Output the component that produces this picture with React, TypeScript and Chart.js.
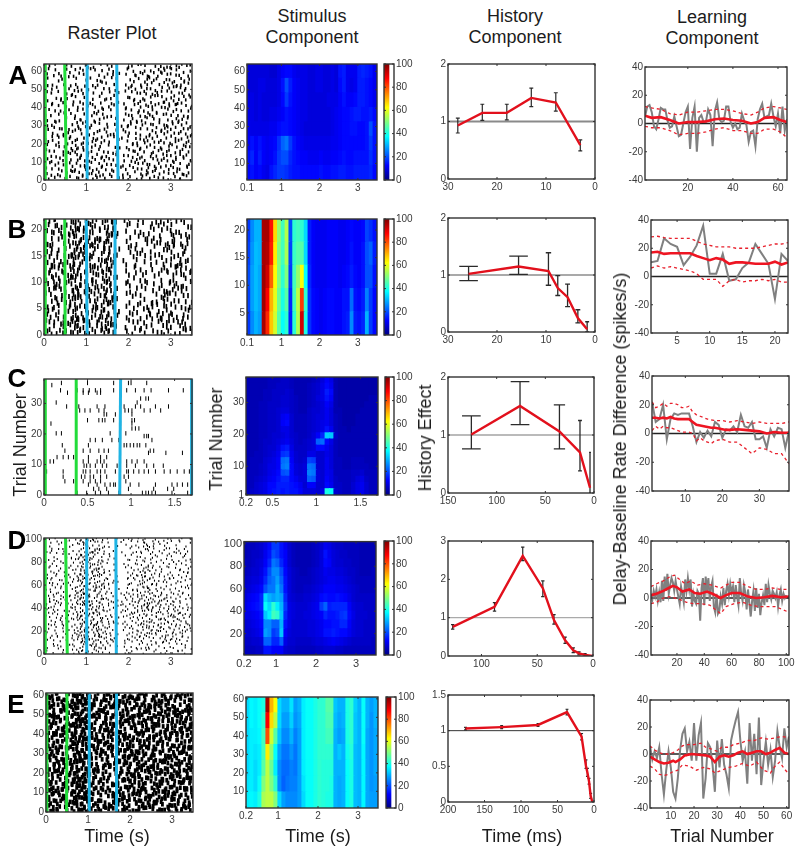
import React, { useEffect, useRef } from "react";
import { Chart, registerables } from "chart.js";
Chart.register(...registerables);

// ---------- raster data: rows top to bottom, "#" = spike in that time bin ----------
const rasterA = [
"#.#..#..#.#...#.##..#.#..#.#..#...#.#.##.#..#.#.##.#.##.#.##",
".#.#.....##.#..#..#.#..#..#.#.....#.#..#.##.#.##.#..#.#.#.#.",
"#..#.#.#..#.#.#.#....#.#.#..#.#..#..##.#.#.#..#.#.##.#.#..##",
".#...#.#.#...#..#.#.#..#...#.#....#.#.#..#.#.##..#.#.#.##.#.",
"..#.#..#..#.#..#...#.#.#.#...#...#.#..#.##.#..#.#.##.#.#.#.#",
"#..#.#...#.#.#.#.#...#..#.#.#....#.#.#.#.#.#.#.#..#.##.#.##.",
".#.#..#.#..#..#.#.#.#.#...#..#..#..#.#.##.#.#.#.##.#..#.#.#.",
"#...#.#..#.#.#..#...#.#.#.#.#....#.#.#..#.#.##.#.#.#.##.#..#",
".#.#..#.#...#.#.##.#..#.#...#.#..#.#.##.#.#..#.##.#.#.#.#.#.",
"#.#..#...#.#.#...#.#.#..#.#.#....#..#.#.#.##.#.#.#.#.##.#.##",
"..#.#.#.#.#..#.#.#..#.#.#..#.....#.#.##.#.#.#.#..#.#.#.#.#.#",
"#.#...#..#.#.#.#..#.#..#.#.#.#..#.#.#..#.#.##.#.##.#.#..#.#.",
".#..#.#.#..#.#.#.#..#.#.#...#...#.#.#.#.#.#.#..#.#.#.##.#.#.",
"#.#.#...#.#.##.#.#.#.#.#..#.#.#..#.#.#.#.#.##.#.#.#.#.#.#.#.",
".#.#.#.#..#.#.##.#.#.#.#.#...#..#.#..#.#.#.#.#.##.#.#.#.#.##",
"#..#.#..#.#.#.#.##.#.#..#.#.#....#.#.#.#..#.#.#.#.#.#.##.#.#",
".#.#..#.#.##.#.#.#.#.#.#.#..#.#.#.#.#.#.#.#.#.#..#.#.#.#.#.#",
"#.#.#.#..#.#.###.#.#.#.#.#.#.....#.#.#.##.#.#.##.#.#.#.#.##.",
".#..#.#.#.#.#.#.#.##.#.#..#.#.#..#.#.#.#.#.#.#.#.#.#.#.#.#.#",
"#.#.#..#.#.##.#.#.#.#.#.#.#..#....#.##.#.#.#.#.#.##.#.#.#.#.",
".#.#.#.#..#.#.##.#.#.#.#.#.#.#..#.#.#.#.#.##.#.#.#.#.#.##.#.",
"#.#..#.#.#.#.##.#.#.#.#.#.#.#.#..#.#.#.#.#.#.#.##.#.#.#.#.#.",
".#.#.#..#.##.#.#.#.#.#.##.#..#..#.#.#.##.#.#.#.#.#.#.#.#.##.",
"#..#.#.#.#.#.#.###.#.#.#.#.#.#.#.#.#.#.#.#.#.##.#.#.#.##.#.#",
".#.#..#.#.##.#.#.##.#.#.#.#.#...#.#.#.#.#.#.#.#.#.#.##.#.#.#",
"#.#.#.#.#.#.##.#.#.#.#.#.#.#.#.#.#.#.#.##.#.#.#.#.#.#.#.#.#.",
];
const rasterB = [
"#.#.##.#..#####.####.#.###.###...#.#..#.#..#.##.#.#..#.#.#..",
".#.##..#.#.####.#####.#.##.##.....#...#...#.#.#...#.#....#.#",
"#.##.#.#..#####.##.##.#.####.#...#..#.#.#..#....#..###.#.#..",
"#..#.#.#..#.####.#.##.##.###.#....#...#.#.#..#.##...##.#.##.",
".##.#..#.#.#####.##.#.#.####......#.#....#.#.#.#.####..#..#.",
"#.##..#.#.#####.#.###.#.###.##...#.#.#..#...#...###.#...#.#.",
".#.#.#.#..####.###.##.##.##.#.....#..#.#.#.#.#.#...#.#.#.#..",
"#.##.#....#####.#.##.#.####.#...#...#.#...#....#.#.#.#.#..#.",
".###.##.#.######.#.##.#.##.##.....#.#...#.#.#..#...#..###.#.",
"####.#.#..#####.#.###.#.####.#...#..#.#....#...##.#..####.#.",
"#.##.#.#.#.####.##.#.##.#.##......#.#..#.#...#.#.#.#.#.##.#.",
".#.##.##..#####.#.##.#.####.##...#...#.#.#.....#..#.#....#.#",
"#.#.###.#.#.####.###.#.#.###.....#.#....#.#.#...#.#.##.#.#..",
".#.##.###.#####.#.##.##.####.#....#..#...#..#.#.#.#.#.#.#.#.",
"#.#.#..#..######.##.#.###.###....#.#.#.#.....#.##.##..#.#.#.",
"#.#.##.#.#.####.#.#.##.#####.#....#....#.#.#.#.##.#.#.#..#.#",
".##.#.#...#####.##.###.#.###.#...#.#.#...#.##.#.##.#.#.#..#.",
"#.#.#.#.#.#.###.##.#.#.####.##....#..#.#.#.#..#.#.#.#...#.#.",
".##.##.#..#####.#.##.#.#####.#...#.#...#.#.##.####.#.#.##.#.",
"#.#.#.##.#.####.##.#.###.####.....#.#.#..#...#.#.###.#.#.#..",
".##.#..#..#####.#.##.#.#####.#...#...#.#.#.#...#.#.#...###.#",
"#.#.##.#.#.####.###.#.#.###.##....#.#..#.#.#.#.#.#.#.#.#.#.#",
];
// raster C, read spike by spike: trial number, then spike times in seconds
const rasterC = [
[36.7, 0.2, 0.5, 0.8, 0.97, 1.0, 1.18], [36, 0.09],
[34.3, 0.19, 0.38, 0.45, 0.52, 0.59, 0.65, 0.8, 0.95, 1.05, 1.15, 1.23, 1.43, 1.6],
[33.5, 0.27, 0.45, 0.51, 0.61, 0.65], [31.6, 1.11, 1.17, 1.2], [30.3, 0.14, 1.07],
[29, 0.26, 0.4, 0.61, 0.7, 0.92, 1.05, 1.11, 1.28, 1.43],
[27.7, 0.41, 0.47, 0.53, 0.63, 0.69, 0.93, 0.97, 1.01, 1.15, 1.22, 1.34],
[26.4, 0.69, 0.72, 0.82, 1.01], [24.5, 0.5, 0.63, 0.67, 0.7, 0.8, 1.01, 1.04],
[23.4, 0.08, 0.88, 1.01], [21.8, 1.01, 1.05, 1.09], [20.2, 0.14, 0.2, 0.76, 0.94],
[19.3, 1.15, 1.18, 1.2], [18, 0.53, 0.59, 0.67, 0.78, 0.86, 1.24],
[16.3, 0.21, 0.51, 0.92, 0.95, 0.99, 1.03, 1.07, 1.1, 1.17],
[14.5, 0.24, 0.45, 0.53, 0.63, 0.69, 0.74, 1.22, 1.26], [13.8, 1.2, 1.4, 1.59],
[12.4, 0.15, 0.22, 0.28, 0.34, 0.51, 0.65, 0.72],
[11, 0.07, 0.11, 0.45, 0.51, 0.61, 0.65, 0.69, 0.95, 1.01, 1.07, 1.15],
[9.6, 0.46, 0.49, 0.53, 0.59, 0.67, 0.72, 0.84, 0.95, 1.05, 1.18, 1.26, 1.37],
[7.7, 0.03, 0.22, 0.45, 0.48, 0.53, 0.61, 0.65, 0.7, 0.82, 0.95, 0.97, 1.03, 1.09, 1.15, 1.2, 1.28, 1.38, 1.45, 1.53, 1.61, 1.67],
[6, 0.22, 0.43, 0.47, 0.53, 0.57, 0.65, 0.72, 0.92, 0.97],
[4.5, 0.24, 0.34, 0.45, 0.53, 0.59, 0.65, 0.94],
[3.4, 0.51, 0.61, 0.7, 0.76, 0.8, 0.82, 0.99, 1.09, 1.28, 1.47, 1.53, 1.59, 1.65],
[2, 0.57, 0.63, 0.72, 0.97, 1.26, 1.42, 1.49],
[0.7, 0.38, 0.49, 0.59, 0.65, 0.74, 0.86, 1.13, 1.17, 1.2, 1.24, 1.28, 1.47, 1.65],
];
const rasterD = [
"#.#..#...#..#.##.#.###.#.#....#.#...#.#.##..#...#.#...#.#..#",
"..#.#..#.#...#.##.#.##.#.#......#..#..#.##.##.#...#.#..#..#.",
".#...#.....#..#.###.##.#.....#...#.#.#..###.#..#.#...#...#.#",
"#..#.#..#.#...##.#.##.#.#.#.......#...#.#.##.#...#.#..#.#...",
".#.#...#...#.#.##.###.#.#...#...#...#.#...#.#.#.#...#.#...#.",
"..#..#.#.#..#.##.####.#.#.#.......#.#..#...#.#.#..#..#.#..#.",
"#...#...#.#..#.###.##.#...#.....#....#.#.#..#.#..#.#...#.#..",
".#.#.#.....#.##.####.#.#.#..#....#.#..#.#.#...#.#...#.#..#.#",
"...#..#.#...#.###.##.###.#.......#..#...#.#.#..#..#.#...#...",
".#..#...#.#..#.##.###.#.#...#.....#..#.#.##.#.#...#...#.#.#.",
"#.#...#...#.#.##.##.####.#.......#.#.#..###.#...#.#.#.#..#..",
"..#.#.#.#...#.###.###.#.#.#.#....#...#.###.#.#.#..#...#.#.#.",
".#...#...#.#.####.##.####.#.......#.#.#.##.#.#.#.#.#..#...#.",
"#.#.#..#.#..#.####.###.#.#...#...#..#.#####.#.#..#.#.#..#.#.",
"..#..#.#...#.#####.###.#.#.#......#.#.#.###.#.#.#..#...#.#.#",
".#.#.#..#.#.#.#####.####.#.#..#...#.#..###.#.#.#.#...#.#...#",
"#..#...#.#.#.#####.##.###.#.......#..#.#.#.#.#...#.#...#.#..",
".#.#.#.#...#.######.####.#.#.#...#.#.#.#.###.#.#.#.#.#..#.#.",
"#.#..#.#.#..#.#####.##.#.#.#.....#.#.#.##.#.#.#.#.#...#.#...",
".#.#.##.#.#.#.######.###.#..#.#.#.#.#.#.###.#.##.#.#.#..#.#.",
"#.#.#..#.#.#.######.##.#.#.#.....#.##.#.###.#.#.##.#.#.#...#",
".#.##.#.#..#.#######.###.#.#..#.#.#.#.##.####.###.#.#..#.#.#",
"##.#.#.#.#.#.######.####.#.#.#..#.#.#.#.#####.##.#.#.#.#.#..",
"#.#.#.#..#.#.#######.##.#.#..#.#.#.#.#.######.###.#.##.#..#.",
".##.#.#.#.#.#.#####.###.#.#.#...#.#.##.#.####.#.#.#.#.#.#.#.",
"#.#.#..#.#..#.####.####.#.#...#.#.#.#.#.##.#.###.##.#.#.#...",
".#.#.#.#.#.#.####.#####.#.#.#...#.#.#.#.###.#.#.#.####.#.#.#",
"#.#.#.#..#.#.###.####.##.#.#..#.#.#.#.#.#.#.#.#.#.#.###.#.#.",
"..#.#.#.#.#.#.####.#####.#.#.....#.#.#.#.###.##.#.#.#.#.#.#.",
".#.#..#..#..#.###.#####.#.#.#.#.#.#.#.###.#.#.###.#.#.#.##.#",
"#..#.#.#...#.#####.####.##.#.....#.#.#.#.###.####.#.#.#.#.#.",
"..#.#...#.#.#.#####.####.#.#.#..#.#.#.#.#.###.#.#.#.#.##.#.#",
".#...#.#...#.######.#####.#.......#.#.#.#.##.###.#.##.#.#.#.",
"#.#.#...#.#.#.#####.####.#.#.#...#.#.#.###.#.#.#.##.#.#.#...",
"..#..#.#...#.######.#####.#.#.....#.#.#.#.#.#.#.#.#.#.#.#.#.",
".#.#...#.#..#.####.####.#.#.#...#.#.#.#.#.#.#..#.#.#.#.#.#..",
"#...#.#...#.#.###.###.##.#.......#...#.#.#.#.#..#.#..#.#.#..",
"..#.#..#.#..#.##.##.##.#.#.#.#..#.#.#...#.#...#.#..#.#..#...",
".#...#.#...#.#.##.#.##.#.#.......#...#.#.#.#.#...#...#.#...#",
"#..#...#.#.#.#.#.##.#.#.#.#.#...#.#.#...#...#.#.#..#.#...#..",
];
const rasterE = [
"##.###.##.#########.##.####.#.###.##.#####.##.###..#####.###",
"#.#####.#.########.##.###.##.###.######.#.####.#.###.#.#####",
"###.#.####.#######.###.#.#####.##.#.######.#####.##.#..#.###",
"##.#.####.#########.#.###.####.#####.##.####.#.####.###.####",
"#####.#.#.#########.##.###.#.##.###.#####.#.###.#######.#.##",
"#.#######.#######.###.#.####.##.#####.#.#####.##.#.#.###.###",
".####.###.########.##.####.#.#####.###.###.####.#####.#.####",
"###.#.###.#########.###.#.###.#.#.####.#.#####.###.#.####.##",
"#.###.###.#######.##.#.####.####.#.#######.#.###.#####.##.##",
"####.##.#.#########.##.###.#.#######.#.#.######.##.#.#####.#",
"##.#####..########.#.###.###.##.#.######.##.#.#####.###.####",
"###.##.##.#########.##.#.###.#.####.#.#####.####.#.###.##.##",
"#.####.##.#######.###.##.####.######.##.#.#####.####.#.#####",
"###.#.###.#########..#####.#.###.#.######.###.#.#.######.#.#",
"##.###.##.########.##.#.#..####.######.#.####.#####.#.###.##",
"#.####.##.#########.#.####.#..####.#.#####.#.###.#.#####.###",
"####.#.##.#######.###..#.###.#.#.######.######.###.##.#.####",
"##.#####.#########.#.###.##.###.####.#.#.##.####.###.#####.#",
"#.#.##.##.########.##.#.##..##.#.#########.#.#.######.#.####",
"###.#.###.#########.####.#.#####.##.#.#.####.#####.#.####.##",
"####.#.##.#######.###.#..###.#.######.###.#.###.#.#####.##.#",
"#.#####.#.#########..##.##.#.##.#.#.######.###.####.#.#.####",
"###.#.###.########.#.#..#.###.####.##.#.#####.#.#.########.#",
"##.####.#.#########.###.#..###.#.######.##.#######.##.#.#.##",
"####.####.#######.##.#.####.#.###.#.####.#####.#.#####.#####",
"#.####.##.#########.###.#.###.#####.###.##.#.######.##.###.#",
];
// where inside its bin a spike falls (bins are coarser than the picture)
const rowPhase = [0.1, 0.55, 0.3, 0.85, 0.2, 0.7, 0.45, 0.95, 0.05, 0.6, 0.35, 0.8, 0.15, 0.5, 0.9, 0.25, 0.65, 0.4, 0.75, 0];
const binDrift = [-0.4, 0.3, 0.1, -0.2, 0.45, -0.35, 0.2, -0.1, 0.35, -0.45, 0.05, 0.25, -0.3, 0.4, -0.15];
const rowDrift = [0.3, -0.2, 0.45, -0.4, 0.1, 0.35, -0.3, 0.2, -0.45, 0.05, -0.1, 0.4, -0.25, 0.15, -0.35, 0.25, 0];

const rasterTimes = [
  { x: [0.03, 0.03], x2: [0.53, 0.49], x3: [1.02, 1.02], x4: [1.75, 1.72] },
  { x: [0.03, 0.03], x2: [0.5, 0.49], x3: [1.02, 1.0], x4: [1.68, 1.68] },
  { x: [0.015, 0.015], x2: [0.37, 0.37], x3: [0.87, 0.88], x4: [1.695, 1.695] },
  { x: [0.03, 0.03], x2: [0.55, 0.51], x3: [1.01, 1.01], x4: [1.71, 1.7] },
  { x: [0.02, 0.02], x2: [0.49, 0.5], x3: [1.03, 1.03], x4: [1.68, 1.68] },
];

// ---------- stimulus component: rate per cell, rows bottom to top ----------
const heatA = [
[13,14,12,13,11,10,14,16,18,18,17,15,14,14,13,13,13,13,13,14,13,13,14,14,15,15,14,14,15,15,15,15,16,13],
[14,16,12,15,12,11,12,14,18,20,20,16,14,13,12,12,11,11,11,12,11,11,12,12,13,14,13,13,14,14,14,14,17,14],
[12,14,12,14,12,11,12,13,17,22,24,18,14,12,11,10,10,10,10,10,10,10,11,11,12,13,13,13,13,13,13,14,18,14],
[11,10,10,10,10,10,11,11,13,14,14,13,12,11,10,9,9,9,9,9,9,9,10,11,12,13,13,14,14,13,13,14,20,14],
[10,10,9,10,9,9,10,10,11,12,14,13,12,11,10,10,9,9,9,9,9,9,10,11,12,13,13,14,15,15,14,14,15,13],
[10,10,9,10,9,9,9,9,10,13,18,14,12,11,10,10,9,9,9,9,9,10,10,10,12,14,12,12,13,15,15,14,13,11],
[9,9,9,10,10,9,9,9,10,14,20,15,12,11,10,10,9,9,10,10,9,9,10,9,13,15,11,10,11,15,15,14,13,11],
[9,9,9,9,9,9,8,8,10,12,13,13,11,10,10,10,9,9,10,10,9,9,10,9,14,15,11,11,11,15,16,15,14,11],
];
const heatB = [
[18,26,30,28,96,84,68,58,46,38,42,15,42,55,92,40,17,13,12,11,12,13,13,12,12,14,15,26,15,14,16,30,18,13],
[19,28,31,29,97,88,70,60,48,40,46,16,44,56,82,42,17,13,12,11,12,13,13,12,12,14,14,23,14,13,15,25,18,13],
[20,28,31,29,97,92,78,62,50,42,50,18,44,52,62,38,16,12,11,11,11,12,12,12,11,12,13,15,13,12,14,20,20,14],
[19,27,31,30,96,95,85,64,50,44,54,19,43,46,46,34,15,12,11,11,11,12,12,12,11,11,12,14,12,12,14,20,22,15],
[18,26,30,30,96,96,86,66,52,44,55,20,42,44,42,34,15,12,11,11,11,12,12,12,11,11,12,13,12,12,13,19,17,14],
];
const heatC = [
[6,7,8,9,10,13,14,15,14,15,14,14,12,9,9,9,8,10,40,38,8,7,6,6,8,10,11,8,6,6],
[6,6,8,9,10,13,13,15,15,15,14,13,11,8,12,12,8,8,13,11,7,7,6,6,8,10,11,8,6,6],
[6,6,7,8,9,11,12,14,16,16,13,11,9,9,22,21,9,8,12,10,7,6,6,6,7,9,10,7,6,6],
[6,6,6,7,8,10,11,13,20,21,13,9,8,9,25,24,9,8,11,10,6,6,6,6,7,7,8,6,6,6],
[5,6,6,7,8,10,10,12,24,25,13,9,8,9,24,23,8,8,11,9,6,6,5,5,6,6,6,6,5,5],
[5,6,6,6,8,9,10,12,23,24,12,8,7,8,19,18,8,8,11,9,6,6,5,5,6,6,6,5,5,5],
[5,5,6,6,7,8,9,11,17,18,11,8,7,7,10,10,8,8,10,9,6,5,5,5,5,5,5,5,5,5],
[5,5,5,6,7,8,8,10,14,15,10,7,7,7,8,9,13,13,11,9,6,5,5,5,5,5,5,5,5,5],
[5,5,5,6,7,7,8,9,10,11,9,7,6,7,8,9,22,23,13,10,6,5,5,5,5,5,5,5,5,5],
[5,5,5,6,6,7,8,8,9,10,8,7,6,6,7,9,12,16,33,32,7,5,5,5,5,5,5,5,5,5],
[5,5,5,6,6,7,7,8,10,10,8,6,6,6,7,8,9,10,14,11,6,5,5,4,5,5,5,5,5,5],
[5,5,5,6,6,7,7,8,12,13,8,6,6,6,7,8,9,10,11,9,6,5,4,4,4,5,5,5,5,5],
[5,5,5,6,6,7,7,8,11,12,8,6,6,6,7,8,9,9,11,9,6,5,4,4,4,5,5,5,5,5],
[5,5,5,6,6,7,7,8,9,9,7,6,5,5,7,8,8,9,11,9,5,5,4,4,4,4,5,5,5,5],
[5,5,5,6,6,7,7,7,8,8,7,6,5,5,6,7,8,9,12,10,5,4,4,4,4,4,4,5,5,5],
[5,5,5,5,6,6,7,7,8,8,7,6,5,5,6,7,9,10,14,12,5,4,4,4,4,4,4,4,5,5],
[5,5,5,5,6,6,7,7,7,8,7,5,5,5,6,7,8,10,15,13,5,4,4,4,4,4,4,4,4,4],
[5,5,5,5,5,6,6,7,7,7,6,5,5,5,6,7,8,10,13,11,5,4,4,4,4,4,4,4,4,4],
[5,5,5,5,5,6,6,6,7,7,6,5,5,5,5,6,7,9,12,10,5,4,4,4,4,4,4,4,4,4],
];
const heatD = [
[6,6,6,7,7,14,14,12,12,12,8,7,7,6,6,6,6,6,7,7,8,8,8,7,7,6,6,6,6,6,6,6,6],
[7,7,8,8,9,22,22,16,16,22,10,8,8,7,7,7,7,8,9,9,10,11,12,11,10,9,8,7,7,7,7,7,6],
[8,8,9,10,12,28,26,18,20,32,12,9,8,8,8,8,9,9,10,11,14,14,15,14,13,13,11,9,8,8,7,7,7],
[8,9,10,11,13,26,26,22,22,30,14,10,8,8,8,8,9,9,10,11,13,13,14,14,16,16,12,9,8,8,7,7,7],
[10,10,11,12,14,32,36,44,42,32,16,10,9,8,8,9,9,10,11,12,16,14,14,15,17,18,13,10,8,8,8,7,7],
[10,12,13,14,16,38,34,42,36,30,18,10,9,8,8,8,9,10,11,18,22,15,16,16,16,16,12,9,8,8,7,7,7],
[9,11,12,13,16,34,30,28,30,28,16,9,8,7,7,8,8,9,10,13,14,13,13,14,13,12,10,8,7,7,7,7,7],
[8,9,10,11,13,20,24,24,30,24,14,9,7,6,6,7,7,8,9,10,12,12,12,11,11,10,9,8,7,6,6,6,6],
[7,8,9,9,11,16,22,24,28,22,14,9,7,6,6,6,6,7,8,9,10,11,11,10,10,9,8,7,6,6,6,6,6],
[6,7,8,8,10,14,20,26,26,20,13,9,7,6,5,5,6,7,8,9,11,10,10,9,9,8,7,7,6,5,5,5,6],
[6,6,7,8,9,12,16,24,22,16,12,8,6,5,5,5,5,6,7,9,13,12,9,8,8,7,7,6,6,5,5,5,5],
[5,6,7,7,8,11,14,20,18,14,12,8,6,5,5,5,5,6,7,9,14,11,9,8,7,7,6,6,6,5,5,5,5],
[5,6,6,7,8,10,13,18,18,14,11,8,6,5,5,5,5,6,7,8,11,10,8,7,7,6,6,6,6,5,5,5,5],
];
const heatE = [
[36,37,36,40,54,56,56,50,34,28,26,26,26,28,34,38,38,40,42,41,40,40,30,29,30,38,40,31,30,37,29,28,28],
[35,36,34,38,50,56,50,42,26,22,24,25,25,28,35,38,38,40,42,41,41,40,30,29,30,38,40,31,30,37,29,27,28],
[34,36,34,36,46,56,48,36,26,23,23,25,24,28,36,38,38,40,42,41,41,41,30,30,30,38,40,31,30,37,29,27,29],
[34,36,35,36,44,64,52,38,28,24,24,27,24,28,36,38,38,40,42,42,42,42,30,32,30,39,41,31,30,37,29,27,29],
[34,36,36,37,44,80,58,46,32,26,26,30,25,28,36,38,38,40,42,42,44,44,30,28,29,40,42,32,30,38,29,27,29],
[34,37,36,38,42,88,66,56,34,28,28,33,27,29,36,38,38,40,42,42,45,45,31,29,30,40,42,32,30,38,30,27,30],
[34,37,36,38,40,96,70,62,34,30,30,35,28,30,36,38,38,40,42,42,46,46,32,30,30,40,42,33,30,38,30,28,30],
];

// ---------- history component ----------
const histA = { x: [28, 23, 18, 13, 8, 3], y: [0.93, 1.15, 1.15, 1.41, 1.33, 0.59], lo: [0.8, 1.02, 1.03, 1.26, 1.18, 0.49], hi: [1.06, 1.3, 1.3, 1.58, 1.5, 0.68], cap: [0.4, 0.4, 0.4, 0.4, 0.4, 0.4] };
const histB = { x: [25.8, 15.6, 9.5, 7.6, 5.6, 3.5, 1.6], y: [1.02, 1.15, 1.07, 0.77, 0.61, 0.245, 0.05], lo: [0.9, 1.01, 0.82, 0.64, 0.445, 0.16, 0], hi: [1.15, 1.33, 1.39, 0.99, 0.84, 0.39, 0.18], cap: [1.9, 1.9, 0.55, 0.5, 0.5, 0.5, 0.4] };
const histC = { x: [126, 76, 35.5, 14.4, 4.1], y: [1.01, 1.5, 1.06, 0.7, 0.09], lo: [0.76, 1.18, 0.76, 0.38, 0], hi: [1.33, 1.92, 1.52, 1.25, 0.7], cap: [9.6, 9.6, 5.8, 2, 1] };
const histD = { x: [125.8, 88.3, 63, 45, 35, 25, 17.7, 12.6, 7.2, 0.3], y: [0.76, 1.28, 2.61, 1.77, 0.94, 0.41, 0.15, 0.07, 0.03, 0], lo: [0.7, 1.17, 2.49, 1.55, 0.83, 0.33, 0.09, 0.03, 0, 0], hi: [0.82, 1.39, 2.84, 1.96, 1.08, 0.49, 0.21, 0.11, 0.06, 0], cap: [1.5, 1.5, 1.5, 1.5, 1.5, 1.5, 1.5, 1.5, 1.5, 0] };
const histE = { x: [176, 126.5, 76.7, 37, 17, 11, 9, 6.8, 4.6, 2.3], y: [1.03, 1.05, 1.08, 1.26, 0.915, 0.505, 0.41, 0.29, 0.085, 0], lo: [1.01, 1.03, 1.06, 1.22, 0.87, 0.47, 0.36, 0.25, 0.05, 0], hi: [1.045, 1.07, 1.1, 1.3, 0.96, 0.59, 0.47, 0.33, 0.12, 0], cap: [2, 2, 2, 2, 2, 2, 2, 2, 2, 0] };

// ---------- learning component ----------
const learnGrayA = [5,12,13,8,-2,-4,3,11,10,10,2,-3,-2,5,-2,-9,-8,0,8,12,-18,4,12,-20,4,6,1,1,10,6,-16,9,15,3,1,2,12,12,1,-3,0,-4,-3,7,2,-1,-13,-6,-5,-16,3,10,14,4,5,6,14,5,-2,7,-7,12,-5,3];
const learnRedAx = [1,4,8,12,16,20,24,28,32,36,40,44,48,51,54,58,61,64];
const learnRedA = [5.5,4,4.5,2.5,0,1,1,1.5,3,3.5,2.5,2,0,1,4,4.5,2.5,1];
const learnUpA = [12,11,10,7,6,8,8,9,10,10,9,7,6,8,11,12,11,10];
const learnLoA = [-2,-3,-3,-5,-8,-7,-7,-6,-4,-3,-5,-5,-7,-7,-4,-4,-6,-10];

const learnGrayB = [10,11,27,23,21,8,14,22,36,2,2,16,-3,-2,6,10,23,16,9,-16,16,11];
const learnRedBx = [1,2,3,4,5,6,7,8,9,10,11,12,13,14,15,16,17,18,19,20,21,22];
const learnRedB = [17,17.5,16,16.5,16.5,16.5,16.5,14.5,13,11.5,13,12,9,10,10,9.5,9,9,9,10.5,8.5,10];
const learnUpB = [28,28.5,27.5,27,27,27,27,25,23,22,21,21,21,20,20,20,20,21,22,23,23,24];
const learnLoB = [6,7.5,6,7,6,5,4,2,-2,-2,-2,-7,-3,-2,-4,-3,-3,-2,-3,-2,-4,-4];

const learnGrayC = [22,8,10,20,-4,10,14,13,14,14,14,5,-6,1,-3,2,-2,8,6,-3,3,2,5,1,13,5,4,8,-4,-4,-2,-10,3,-2,4,3,-10,2];
const learnRedCx = [1,2,3,4,5,6,7,8,9,10,11,12,13,14,15,16,17,18,19,20,21,22,24,26,28,30,32,34,36,38];
const learnRedC = [11,11,10.5,11,10.5,11.5,10.5,10,10,10,10,8,6,5.5,5,4.5,4,4,3.5,3,2.5,2.5,3,2.5,2,1.5,0,1,0.5,0.5];
const learnUpCx = [1,2,3,4,5,6,7,8,9,10,11,12,13,14,15,16,18,20,22,24,26,28,30,32,34,36,38];
const learnUpC = [22,18,19,21,19,21,21,20,18,18,19,15,13,12,11,10,9,9,8,9,8,7,8,7,7,7,8];
const learnLoCx = [1,2,3,4,5,6,7,8,9,10,11,12,13,14,15,16,17,18,20,22,24,26,28,30,32,34,36,38];
const learnLoC = [2,5,3,5,4,4,3,2,1,1,1,0,-5,-3,-5,-6,-7,-5,-4,-6,-6,-10,-14,-10,-11,-14,-14,-21];

const learnGrayD = [2,-1,5,1,6,-2,4,-3,12,-2,15,5,17,3,9,14,11,5,12,6,1,-4,8,3,-3,13,5,14,6,13,-6,3,-2,-4,5,3,-16,7,14,-5,15,6,14,-2,8,12,-6,-10,3,-11,-9,1,-4,7,-5,5,10,2,10,4,8,-3,9,1,-5,14,3,-2,9,4,-8,6,-4,-13,-2,5,-9,7,-7,3,-12,-3,2,-5,10,-3,9,3,-1,5,3,0,4,-6,2,6,-2,3,0,2];
const learnRedDx = [1,5,10,14,17,20,24,29,33,37,42,46,52,56,60,66,72,78,84,90,96,102];
const learnRedD = [2,3,5,7,8.5,7.5,4.5,6,3.5,3,4.5,3,0,2,3.5,3.5,1,0,0.5,1.5,0.5,1];
const learnUpDx = [1,5,10,15,18,22,26,30,35,40,46,52,56,60,66,72,78,84,90,96,102];
const learnUpD = [8,10,12,15,16,13,10,12,9,10,9,7,9,11,11,8,6,6,7,6,6];
const learnLoDx = [1,5,10,15,18,22,27,32,38,44,48,52,56,62,68,74,80,86,92,97,102];
const learnLoD = [-4,-3,0,1,0,-1,-3,-4,-4,-5,-8,-11,-6,-4,-3,-5,-6,-6,-6,-8,-10];

const learnGrayE = [6,-4,2,-3,5,-15,-30,-12,2,-10,-28,-33,-18,3,15,19,2,9,-5,23,-5,14,23,-33,-18,8,5,-8,-28,10,-10,11,-8,-15,-25,10,18,25,31,10,-5,2,-22,23,-5,15,-15,27,-23,-5,9,-8,3,-17,-5,17,5,-3,19,5,13];
const learnRedEx = [1,3,5,7,9,11,12,14,16,19,22,25,27,29,31,33,35,37,39,41,43,45,47,49,51,53,55,57,59,61];
const learnRedE = [-2,-4,-6,-7,-6.5,-5,-6,-4,-1,0,-0.5,-1,-2,-6,-2,-1,-2,-1,1,2,0,1,2,2,0,1,3,4.5,1,0];
const learnUpEx = [1,3,5,7,9,11,13,15,17,20,23,25,27,30,32,35,37,40,43,46,49,52,55,58,61];
const learnUpE = [6,3,1,0,0,1,3,6,7,7,8,5,4,2,5,5,7,8,10,10,12,11,12,13,12];
const learnLoEx = [1,3,5,7,9,11,13,15,18,21,24,27,29,32,35,38,41,44,47,50,53,55,57,59,61];
const learnLoE = [-9,-11,-15,-16,-15,-13,-12,-8,-9,-12,-10,-11,-14,-12,-10,-9,-7,-9,-6,-12,-14,-9,-6,-11,-15];

const cbTicks = [0, 20, 40, 60, 80, 100];
const learnYTicks = [-40, -20, 0, 20, 40];

// ---------- helpers ----------
const FONT = "'Liberation Sans', Arial, sans-serif";
const clamp = (v: number) => Math.max(0, Math.min(1, v));
const jet = (p: number) => {
  const v = p / 100;
  const c = (k: number) => Math.round(255 * clamp(1.5 - Math.abs(4 * v - k)));
  return `rgb(${c(3)},${c(2)},${c(1)})`;
};
const zip = (xs: number[], ys: number[]) => ys.map((y, i) => ({ x: xs[i], y }));
const seq1 = (ys: number[]) => ys.map((y, i) => ({ x: i + 1, y }));

const frame = {
  id: "frame",
  afterDatasetsDraw(chart: any) {
    const { ctx, chartArea: a, scales } = chart;
    ctx.save();
    ctx.strokeStyle = "#333";
    ctx.lineWidth = 1.4;
    ctx.strokeRect(a.left, a.top, a.right - a.left, a.bottom - a.top);
    ctx.lineWidth = 1;
    ctx.beginPath();
    if (scales.x && scales.x.options.display !== false)
      scales.x.ticks.forEach((t: any) => {
        const p = scales.x.getPixelForValue(t.value);
        ctx.moveTo(p, a.bottom); ctx.lineTo(p, a.bottom - 2);
        ctx.moveTo(p, a.top); ctx.lineTo(p, a.top + 2);
      });
    scales.y.ticks.forEach((t: any) => {
      const p = scales.y.getPixelForValue(t.value);
      ctx.moveTo(a.left, p); ctx.lineTo(a.left + 2, p);
      ctx.moveTo(a.right, p); ctx.lineTo(a.right - 2, p);
    });
    ctx.stroke();
    ctx.restore();
  },
};

const axis = (min: number, max: number, ticks: number[], size: number, extra: any = {}, font = 10) => ({
  type: "linear",
  min,
  max,
  offset: false,
  grid: { display: false, drawTicks: false, tickLength: 0 },
  border: { display: false },
  afterBuildTicks: (s: any) => { s.ticks = ticks.map((value) => ({ value })); },
  afterFit: (s: any) => { if (s.isHorizontal()) s.height = size; else s.width = size; },
  ticks: {
    autoSkip: false, maxRotation: 0, padding: 2, color: "#3a3a3a",
    font: { family: FONT, size: font },
    callback: (v: any) => String(v),
  },
  ...extra,
});

const base = (scales: any, padding: any) => ({
  animation: false,
  responsive: false,
  devicePixelRatio: 1,
  events: [],
  layout: { padding },
  plugins: { legend: { display: false }, tooltip: { enabled: false } },
  scales,
});

type Box = { l: number; t: number; r: number; b: number };
type Panel = { box: Box; m: number[]; config: any };

const M = [30, 12, 8, 18]; // left, right, top, bottom margins of a canvas round its plot

function rasterPanel(box: Box, spikes: { x: number; y: number }[], xMax: number, yMax: number, xT: number[], yT: number[], times: any, tickW: number, tickH: number): Panel {
  const vline = (xs: number[], color: string) => ({
    data: [{ x: xs[0], y: 0 }, { x: xs[1], y: yMax }], showLine: true, borderColor: color, borderWidth: 3, pointRadius: 0, clip: 3,
  });
  const green = "#22dc3a", cyan = "#1fb4e4";
  return {
    box, m: M,
    config: {
      type: "scatter",
      data: {
        datasets: [
          vline(times.x, green), vline(times.x2, green), vline(times.x3, cyan), vline(times.x4, cyan),
          { data: spikes, pointStyle: "line", rotation: 90, pointRadius: tickH / 2, borderColor: "#000", pointBorderColor: "#000", pointBorderWidth: tickW },
        ],
      },
      options: base({ x: axis(0, xMax, xT, M[3]), y: axis(0, yMax, yT, M[0]) }, { top: M[2], right: M[1] }),
      plugins: [frame],
    },
  };
}
const fromRows = (rows: string[], xMax: number, yMax: number) => {
  const pts: { x: number; y: number }[] = [];
  rows.forEach((row, r) => {
    for (let c = 0; c < row.length; c++)
      if (row[c] === "#") {
        const seg = Math.floor(c / 7);
        const dx = 1.6 * rowPhase[(r * 7 + seg * 3) % rowPhase.length] - 0.3 + binDrift[(c * 4 + r) % binDrift.length];
        const dy = rowDrift[(c * 5 + r * 3) % rowDrift.length];
        pts.push({ x: Math.max(0.02, ((c + dx) / 60) * xMax), y: yMax * (1 - (r + 0.5 + dy) / rows.length) });
      }
  });
  return pts;
};
const fromTrials = (list: number[][]) => {
  const pts: { x: number; y: number }[] = [];
  list.forEach(([trial, ...ts]) => ts.forEach((x) => pts.push({ x, y: trial })));
  return pts;
};

function heatPanel(box: Box, matrix: number[][], x0: number, dx: number, xMax: number, yMin: number, yMax: number, xT: number[], yT: number[], font = 10): Panel {
  const rowH = (yMax - yMin) / matrix.length;
  const datasets = matrix.map((row, r) => ({
    data: row.map((_, c) => ({ x: x0 + dx * (c + 0.5), y: [yMin + rowH * r, yMin + rowH * (r + 1)] })),
    backgroundColor: row.map(jet),
    borderWidth: 0,
    inflateAmount: 0.6,
    barPercentage: 1,
    categoryPercentage: 1,
    grouped: false,
  }));
  return {
    box, m: M,
    config: {
      type: "bar",
      data: { datasets },
      options: base({ x: axis(x0, xMax, xT, M[3], {}, font), y: axis(yMin, yMax, yT, M[0], {}, font) }, { top: M[2], right: M[1] }),
      plugins: [frame],
    },
  };
}

function colorbar(box: Box): Panel {
  const m = [2, 28, 8, 8];
  return {
    box, m,
    config: {
      type: "bar",
      data: {
        labels: [""],
        datasets: [{
          data: [cbTicks[cbTicks.length - 1]],
          barPercentage: 1, categoryPercentage: 1, borderWidth: 0,
          backgroundColor: (c: any) => {
            const a = c.chart.chartArea;
            if (!a) return "#00f";
            const g = c.chart.ctx.createLinearGradient(0, a.bottom, 0, a.top);
            [0, 5, 12.5, 25, 37.5, 50, 62.5, 75, 87.5, 100].forEach((p) => g.addColorStop(p / 100, jet(p)));
            return g;
          },
        }],
      },
      options: base({
        x: { display: false, offset: false },
        y: axis(0, 100, cbTicks, m[1], { position: "right" }),
      }, { top: m[2], bottom: m[3], left: m[0] }),
      plugins: [frame],
    },
  };
}

function historyPanel(box: Box, h: any, xMax: number, yMax: number, xT: number[], yT: number[], refColor: string, refW: number, errW: number): Panel {
  const err: { x: number; y: number }[] = [];
  h.x.forEach((x: number, i: number) => {
    const c = h.cap[i];
    err.push({ x, y: h.lo[i] }, { x, y: h.hi[i] }, { x, y: NaN });
    if (c > 0) {
      err.push({ x: x - c, y: h.lo[i] }, { x: x + c, y: h.lo[i] }, { x, y: NaN });
      err.push({ x: x - c, y: h.hi[i] }, { x: x + c, y: h.hi[i] }, { x, y: NaN });
    }
  });
  return {
    box, m: M,
    config: {
      type: "scatter",
      data: {
        datasets: [
          { data: zip(h.x, h.y), showLine: true, borderColor: "#e2101c", borderWidth: 2.4, pointRadius: 0 },
          { data: err, showLine: true, spanGaps: false, borderColor: "#2a2a2a", borderWidth: errW, pointRadius: 0 },
          { data: [{ x: 0, y: 1 }, { x: xMax, y: 1 }], showLine: true, borderColor: refColor, borderWidth: refW, pointRadius: 0 },
        ],
      },
      options: base({ x: axis(0, xMax, xT, M[3], { reverse: true }), y: axis(0, yMax, yT, M[0]) }, { top: M[2], right: M[1] }),
      plugins: [frame],
    },
  };
}

function learningPanel(box: Box, gray: number[], red: any[], up: any[], lo: any[], xMin: number, xMax: number, xT: number[]): Panel {
  const dash = (data: any[]) => ({ data, showLine: true, borderColor: "#e8202c", borderWidth: 1.3, borderDash: [3, 3], pointRadius: 0 });
  return {
    box, m: M,
    config: {
      type: "scatter",
      data: {
        datasets: [
          { data: red, showLine: true, borderColor: "#ee1522", borderWidth: 2.6, pointRadius: 0 },
          dash(up), dash(lo),
          { data: seq1(gray), showLine: true, borderColor: "#808080", borderWidth: 2, pointRadius: 0 },
          { data: [{ x: xMin, y: 0 }, { x: xMax, y: 0 }], showLine: true, borderColor: "#222", borderWidth: 1.4, pointRadius: 0 },
        ],
      },
      options: base({ x: axis(xMin, xMax, xT, M[3]), y: axis(-40, 40, learnYTicks, M[0]) }, { top: M[2], right: M[1] }),
      plugins: [frame],
    },
  };
}

const panels: Panel[] = [
  rasterPanel({ l: 44, t: 64, r: 192, b: 180 }, fromRows(rasterA, 3.5, 64), 3.5, 64, [0, 1, 2, 3], [0, 10, 20, 30, 40, 50, 60], rasterTimes[0], 1.6, 3.2),
  rasterPanel({ l: 44, t: 219, r: 192, b: 335 }, fromRows(rasterB, 3.5, 22), 3.5, 22, [0, 1, 2, 3], [0, 5, 10, 15, 20], rasterTimes[1], 1.7, 5.2),
  rasterPanel({ l: 44, t: 379, r: 192, b: 495 }, fromTrials(rasterC), 1.7, 38, [0, 0.5, 1, 1.5], [0, 10, 20, 30], rasterTimes[2], 1, 4.4),
  rasterPanel({ l: 44, t: 538, r: 192, b: 654 }, fromRows(rasterD, 3.5, 101), 3.5, 101, [0, 1, 2, 3], [0, 20, 40, 60, 80, 100], rasterTimes[3], 1.1, 2),
  rasterPanel({ l: 46, t: 693, r: 193, b: 812 }, fromRows(rasterE, 3.5, 61), 3.5, 61, [0, 1, 2, 3], [0, 10, 20, 30, 40, 50, 60], rasterTimes[4], 2.8, 4.6),

  heatPanel({ l: 247, t: 64, r: 377, b: 180 }, heatA, 0.1, 0.1, 3.5, 1, 64, [0.1, 1, 2, 3], [10, 20, 30, 40, 50, 60]),
  heatPanel({ l: 247, t: 219, r: 377, b: 335 }, heatB, 0.1, 0.1, 3.5, 1, 22, [0.1, 1, 2, 3], [5, 10, 15, 20]),
  heatPanel({ l: 246, t: 377, r: 378, b: 495 }, heatC, 0.2, 0.05, 1.7, 1, 38, [0.2, 0.5, 1, 1.5], [1, 10, 20, 30]),
  heatPanel({ l: 244, t: 541, r: 376, b: 655 }, heatD, 0.2, 0.1, 3.5, 1, 102, [0.2, 1, 2, 3], [20, 40, 60, 80, 100], 11),
  heatPanel({ l: 246, t: 697, r: 378, b: 808 }, heatE, 0.2, 0.1, 3.5, 1, 61, [0.2, 1, 2, 3], [10, 20, 30, 40, 50, 60]),

  colorbar({ l: 384, t: 64, r: 394, b: 180 }),
  colorbar({ l: 384, t: 219, r: 394, b: 335 }),
  colorbar({ l: 385, t: 377, r: 394, b: 495 }),
  colorbar({ l: 384, t: 541, r: 394, b: 655 }),
  colorbar({ l: 386, t: 697, r: 396, b: 808 }),

  historyPanel({ l: 448, t: 64, r: 595, b: 179 }, histA, 30, 2, [30, 20, 10, 0], [0, 1, 2], "#8a8a8a", 1.8, 1.2),
  historyPanel({ l: 448, t: 218, r: 595, b: 332 }, histB, 30, 2, [30, 20, 10, 0], [0, 1, 2], "#555", 1.2, 1.3),
  historyPanel({ l: 448, t: 377, r: 594, b: 493 }, histC, 150, 2, [150, 100, 50, 0], [0, 1, 2], "#777", 1.2, 1.3),
  historyPanel({ l: 448, t: 541, r: 593, b: 656 }, histD, 130, 3, [100, 50, 0], [0, 1, 2, 3], "#aaa", 1.2, 1.2),
  historyPanel({ l: 448, t: 695, r: 594, b: 802 }, histE, 200, 1.5, [200, 150, 100, 50, 0], [0, 0.5, 1, 1.5], "#333", 1, 1.2),

  learningPanel({ l: 645, t: 67, r: 787, b: 180 }, learnGrayA, zip(learnRedAx, learnRedA), zip(learnRedAx, learnUpA), zip(learnRedAx, learnLoA), 1, 64, [20, 40, 60]),
  learningPanel({ l: 651, t: 220, r: 788, b: 333 }, learnGrayB, zip(learnRedBx, learnRedB), zip(learnRedBx, learnUpB), zip(learnRedBx, learnLoB), 1, 22, [5, 10, 15, 20]),
  learningPanel({ l: 652, t: 376, r: 789, b: 491 }, learnGrayC, zip(learnRedCx, learnRedC), zip(learnUpCx, learnUpC), zip(learnLoCx, learnLoC), 1, 38, [10, 20, 30]),
  learningPanel({ l: 651, t: 541, r: 789, b: 655 }, learnGrayD, zip(learnRedDx, learnRedD), zip(learnUpDx, learnUpD), zip(learnLoDx, learnLoD), 1, 102, [20, 40, 60, 80, 100]),
  learningPanel({ l: 650, t: 700, r: 789, b: 808 }, learnGrayE, zip(learnRedEx, learnRedE), zip(learnUpEx, learnUpE), zip(learnLoEx, learnLoE), 1, 61, [10, 20, 30, 40, 50, 60]),
];

function PanelCanvas({ panel }: { panel: Panel }) {
  const ref = useRef<HTMLCanvasElement>(null);
  const { box, m, config } = panel;
  useEffect(() => {
    const chart = new Chart(ref.current as any, config);
    return () => chart.destroy();
  }, []);
  const width = box.r - box.l + m[0] + m[1];
  const height = box.b - box.t + m[2] + m[3];
  return (
    <canvas
      ref={ref}
      width={width}
      height={height}
      style={{ position: "absolute", left: box.l - m[0], top: box.t - m[2], width, height, filter: "blur(0.5px)" }}
    />
  );
}

const Label = ({ x, y, size = 18, rot = 0, bold = false, children }: any) => (
  <div style={{
    position: "absolute", left: x, top: y, whiteSpace: "nowrap", fontFamily: FONT, fontSize: size,
    fontWeight: bold ? 700 : 400, color: bold ? "#000" : "#1c1c1c", lineHeight: 1,
    transform: `translate(-50%,-50%) rotate(${rot}deg)`,
  }}>{children}</div>
);

export default function App() {
  return (
    <div style={{ position: "absolute", left: 0, top: 0, width: 800, height: 852, background: "#fff", overflow: "hidden" }}>
      {panels.map((p, i) => <PanelCanvas key={i} panel={p} />)}
      <Label x={112} y={33}>Raster Plot</Label>
      <Label x={312} y={16}>Stimulus</Label>
      <Label x={312} y={37}>Component</Label>
      <Label x={515} y={16}>History</Label>
      <Label x={515} y={37}>Component</Label>
      <Label x={712} y={17}>Learning</Label>
      <Label x={712} y={38}>Component</Label>
      <Label x={18} y={75} size={26} bold>A</Label>
      <Label x={17} y={229} size={26} bold>B</Label>
      <Label x={17} y={378} size={26} bold>C</Label>
      <Label x={17} y={540} size={26} bold>D</Label>
      <Label x={16} y={704} size={26} bold>E</Label>
      <Label x={20} y={445} rot={-90}>Trial Number</Label>
      <Label x={216} y={439} rot={-90}>Trial Number</Label>
      <Label x={425} y={438} rot={-90}>History Effect</Label>
      <Label x={620} y={439} rot={-90}>Delay-Baseline Rate Difference (spikes/s)</Label>
      <Label x={117} y={836}>Time (s)</Label>
      <Label x={318} y={836}>Time (s)</Label>
      <Label x={522} y={836}>Time (ms)</Label>
      <Label x={722} y={836}>Trial Number</Label>
    </div>
  );
}
